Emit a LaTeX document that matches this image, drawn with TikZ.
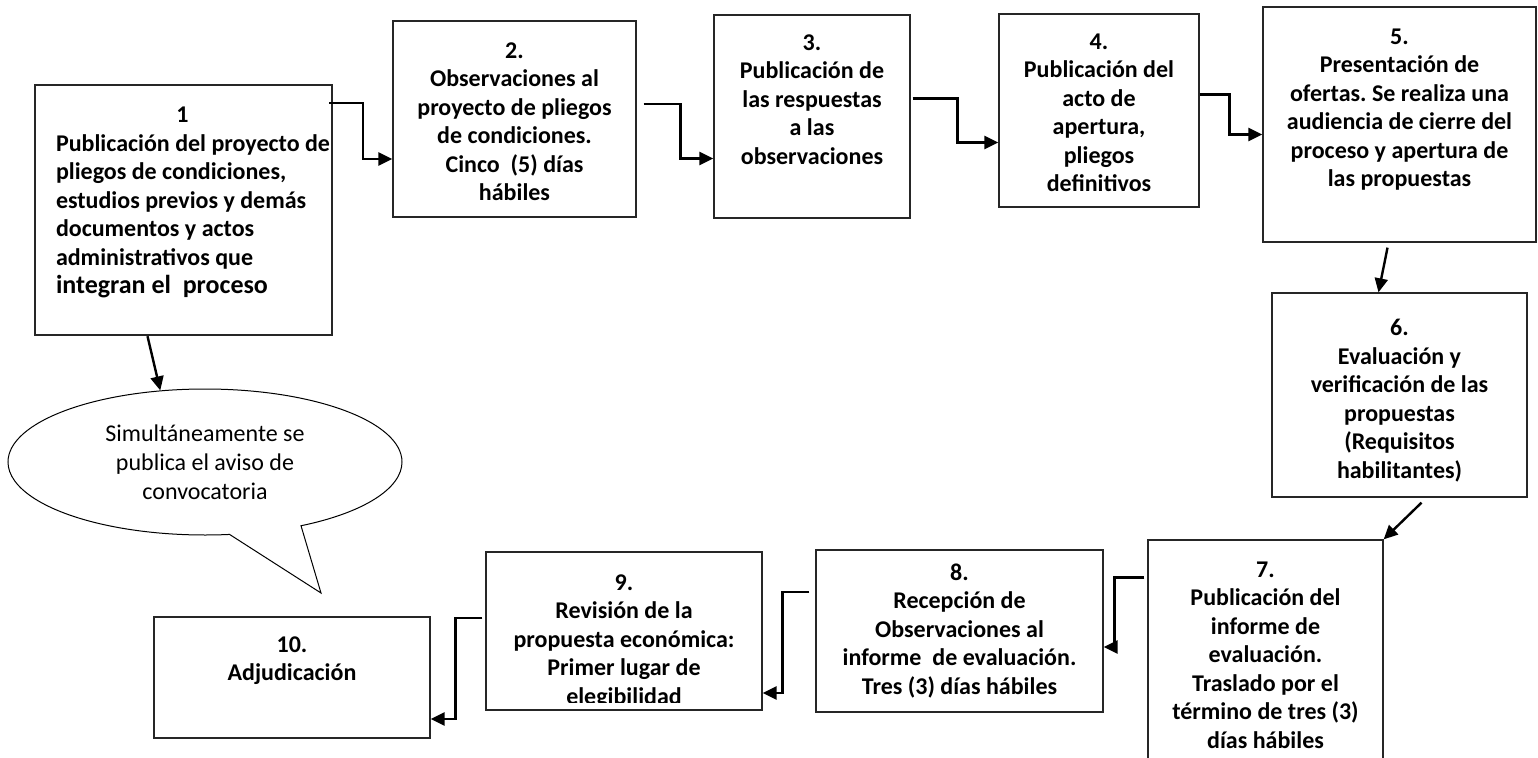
\documentclass[tikz,border=0pt]{standalone}
\usepackage{fontspec}
\setmainfont{Carlito}
\usetikzlibrary{arrows.meta,shapes.callouts}
\frenchspacing

\begin{document}
\begin{tikzpicture}[x=1pt,y=-1pt,
  box/.style={draw=black!85,line width=1.3pt,inner sep=0pt},
  txt/.style={anchor=north,inner sep=0pt,align=center,font=\bfseries\fontsize{24}{28.5}\selectfont},
  arr/.style={line width=2.4pt,-{Triangle[length=14pt,width=13pt]}}]
\useasboundingbox (0,0) rectangle (1538,757);
\clip (0,0) rectangle (1538,757);
\node[box,line width=2.4pt,minimum width=297,minimum height=250] (b1) at (183.5,210) {};
\node[box,minimum width=243,minimum height=196] (b2) at (514.5,119) {};
\node[box,minimum width=196,minimum height=203] (b3) at (812,116.5) {};
\node[box,minimum width=200,minimum height=193] (b4) at (1099,110.5) {};
\node[box,minimum width=273,minimum height=235] (b5) at (1399.5,124.5) {};
\node[box,minimum width=255,minimum height=204] (b6) at (1399.5,395) {};
\node[box,minimum width=235,minimum height=250] (b7) at (1265.5,665) {};
\node[box,minimum width=287,minimum height=162] (b8) at (959.5,631) {};
\node[box,minimum width=276,minimum height=158] (b9) at (624,631) {};
\node[box,minimum width=276,minimum height=121] (b10) at (292,677.5) {};
\node[txt,anchor=north west,align=left] (t1) at ([xshift=22pt,yshift=-23pt]b1.north west)
  {\makebox[253pt]{1}\\Publicación del proyecto de\\pliegos de condiciones,\\estudios previos y demás\\documentos y actos\\administrativos que\\{\fontsize{26}{33}\selectfont integran el\ \ proceso}};
\node[txt] (t2) at ([yshift=-22pt]b2.north) {2.\\Observaciones al\\proyecto de pliegos\\de condiciones.\\Cinco\ \ (5) días\\hábiles};
\node[txt] (t3) at ([yshift=-20pt]b3.north) {3.\\Publicación de\\las respuestas\\a las\\observaciones};
\node[txt] (t4) at ([yshift=-20pt]b4.north) {4.\\Publicación del\\acto de\\apertura,\\pliegos\\definitivos};
\node[txt] (t5) at ([yshift=-22pt]b5.north) {5.\\Presentación de\\ofertas. Se realiza una\\audiencia de cierre del\\proceso y apertura de\\las propuestas};
\node[txt] (t6) at ([yshift=-27pt]b6.north) {6.\\Evaluación y\\verificación de las\\propuestas\\(Requisitos\\habilitantes)};
\node[txt] (t7) at ([yshift=-22pt]b7.north) {7.\\Publicación del\\informe de\\evaluación.\\Traslado por el\\término de tres (3)\\días hábiles};
\node[txt] (t8) at ([yshift=-14pt]b8.north) {8.\\Recepción de\\Observaciones al\\informe\ \ de evaluación.\\Tres (3) días hábiles};
\begin{scope}
\clip (486,552) rectangle (762,702);
\node[txt] (t9) at ([yshift=-23pt]b9.north) {9.\\Revisión de la\\propuesta económica:\\Primer lugar de\\elegibilidad};
\end{scope}
\node[txt] (t10) at ([yshift=-20pt]b10.north) {10.\\Adjudicación};
\node[draw,line width=1pt,ellipse callout,minimum width=394,minimum height=146,inner sep=0pt,
  callout absolute pointer={(321,593)},callout pointer arc=22,align=center,
  font=\fontsize{24}{29}\selectfont] (aviso) at (205,462) {Simultáneamente se\\publica el aviso de\\convocatoria};
\draw[arr] ([xshift=-4pt,yshift=-19pt]b1.north east) -- ++(34,0) |- ([yshift=-40pt]b2.west);
\draw[arr] ([xshift=7pt,yshift=15pt]b2.east) -- ++(37,0) |- ([yshift=-42pt]b3.west);
\draw[arr] ([xshift=2pt,yshift=18pt]b3.east) -- ++(45,0) |- ([yshift=-32pt]b4.west);
\draw[arr] ([yshift=16pt]b4.east) -- ++(30,0) |- ([yshift=-10pt]b5.west);
\draw[arr] ([xshift=-12pt,yshift=-5pt]b5.south) -- ([xshift=-21pt]b6.north);
\draw[arr] ([xshift=22pt,yshift=-5pt]b6.south) -- (b7.north east);
\draw[arr] ([xshift=-3pt,yshift=-38pt]b7.north west) -- ++(-30,0) |- ([yshift=-16pt]b8.east);
\draw[arr] ([xshift=-6pt,yshift=39pt]b8.west) -- ++(-27,0) |- ([yshift=-62pt]b9.east);
\draw[arr] ([xshift=-3pt,yshift=13pt]b9.west) -- ++(-27,0) |- ([yshift=-41.5pt]b10.east);
\draw[arr] ([xshift=-36pt]b1.south) -- (aviso.122);
\end{tikzpicture}
\end{document}
